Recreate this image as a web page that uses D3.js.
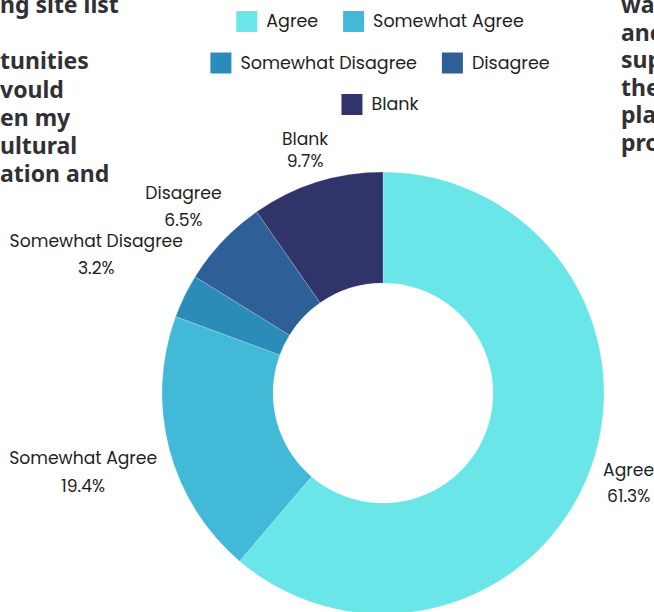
<!DOCTYPE html>
<html>
<head>
<meta charset="utf-8">
<script src="https://cdn.jsdelivr.net/npm/d3@7"></script>
<style>
  html, body { margin: 0; padding: 0; background: #ffffff; overflow: hidden; }
  svg { display: block; }
</style>
</head>
<body>
<svg id="chart" width="654" height="612"></svg>
<script>
// Survey responses (percent of respondents)
const categories = ["Agree", "Somewhat Agree", "Somewhat Disagree", "Disagree", "Blank"];
const percents = [61.3, 19.4, 3.2, 6.5, 9.7];
const colors = ["#6ae5e8", "#42b9d6", "#2b8cba", "#2e5f97", "#30346b"];

// Heading copy that sits behind the chart, running off both edges
const leftCopy = ["ng site list", "", "tunities", "vould", "en my", "ultural", "ation and"];
const rightCopy = ["wa", "anc", "sup", "the", "pla", "pro"];

// Label nudges relative to the slice's outer label point
const labelNudge = [[11, -3], [-58, 8], [-62, -36], [-18, -22], [-3, -9]];
const labelLineGap = [26, 28, 27, 27, 22];

const W = 654, H = 612;
const cx = 383, cy = 393, outerR = 221, innerR = 110, labelR = 250;
const labelFont = "Poppins, 'Noto Sans', sans-serif";

const svg = d3.select("#chart");

// Background heading copy
const copy = svg.append("g")
  .attr("font-family", "'Noto Sans', sans-serif")
  .attr("font-weight", 700)
  .attr("font-size", 23)
  .attr("fill", "#303036");
copy.selectAll("text.l").data(leftCopy).join("text")
  .attr("class", "l")
  .attr("x", 0)
  .attr("y", (d, i) => 13 + i * 28.2)
  .text(d => d);
copy.selectAll("text.r").data(rightCopy).join("text")
  .attr("class", "r")
  .attr("x", 621)
  .attr("y", (d, i) => 13 + i * 27.6)
  .text(d => d);

// Donut
const pie = d3.pie().sort(null).value(d => d.value);
const arcs = pie(categories.map((c, i) => ({ name: c, value: percents[i], color: colors[i] })));
const arc = d3.arc().innerRadius(innerR).outerRadius(outerR);

const g = svg.append("g").attr("transform", `translate(${cx},${cy})`);
g.selectAll("path").data(arcs).join("path")
  .attr("d", arc)
  .attr("fill", d => d.data.color)
  .attr("stroke", "#ffffff")
  .attr("stroke-opacity", 0.35)
  .attr("stroke-width", 0.6);

// Outside labels: name + percent
const labels = g.selectAll("g.lbl").data(arcs).join("g")
  .attr("class", "lbl")
  .attr("font-family", labelFont)
  .attr("font-size", 17.2)
  .attr("fill", "#1f1f1f")
  .attr("text-anchor", "middle")
  .attr("transform", (d, i) => {
    const a = (d.startAngle + d.endAngle) / 2;
    const x = Math.sin(a) * labelR + labelNudge[i][0];
    const y = -Math.cos(a) * labelR + labelNudge[i][1];
    return `translate(${x},${y})`;
  });
labels.append("text").attr("y", 0).text(d => d.data.name);
labels.append("text").attr("y", (d, i) => labelLineGap[i])
  .text(d => d3.format(".1f")(d.data.value) + "%");

// Legend rows, centred above the donut
const legendRows = [[0, 1], [2, 3], [4]];
const legendCenterX = 380, sw = 21, txtGap = 9, itemGap = 25;
const legend = svg.append("g")
  .attr("font-family", labelFont)
  .attr("font-size", 17.5)
  .attr("fill", "#1f1f1f");
legendRows.forEach((row, r) => {
  const rowG = legend.append("g");
  let x = 0;
  row.forEach(idx => {
    const item = rowG.append("g").attr("transform", `translate(${x},0)`);
    item.append("rect")
      .attr("width", sw).attr("height", sw)
      .attr("fill", colors[idx]);
    const t = item.append("text")
      .attr("x", sw + txtGap)
      .attr("y", 16)
      .text(categories[idx]);
    x += sw + txtGap + t.node().getComputedTextLength() + itemGap;
  });
  const rowW = x - itemGap;
  rowG.attr("transform", `translate(${legendCenterX - rowW / 2},${11 + r * 41.5})`);
});
</script>
</body>
</html>
